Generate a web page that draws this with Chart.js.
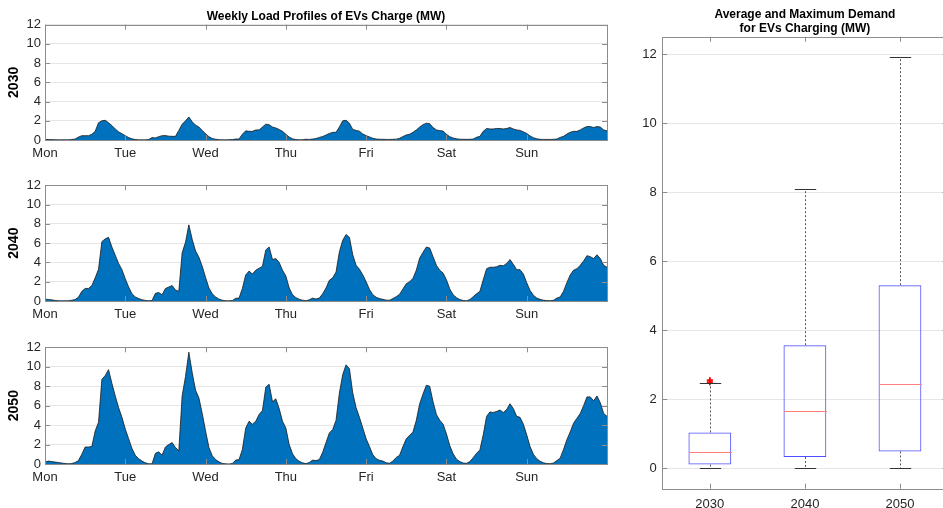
<!DOCTYPE html>
<html>
<head>
<meta charset="utf-8">
<script src="https://cdn.jsdelivr.net/npm/chart.js@4"></script>
<style>
  html, body { margin: 0; padding: 0; background: #fff; overflow: hidden; width: 943px; height: 508px; }
  .panel { position: absolute; }
</style>
</head>
<body>
<div class="panel" style="left:0;top:0;width:620px;height:170px"><canvas id="c2030"></canvas></div>
<div class="panel" style="left:0;top:170px;width:620px;height:161px"><canvas id="c2040"></canvas></div>
<div class="panel" style="left:0;top:332px;width:620px;height:162px"><canvas id="c2050"></canvas></div>
<div class="panel" style="left:620px;top:0;width:340px;height:508px"><canvas id="cBox"></canvas></div>
<script>
// hourly load over one week (MW), hour 0 = Monday 00:00
const hours = Array.from({ length: 169 }, (_, i) => i);
const dayNames = ['Mon', 'Tue', 'Wed', 'Thu', 'Fri', 'Sat', 'Sun'];

const load2030 = [
  0.05, 0.05, 0.04, 0.03, 0.02, 0.02, 0.02, 0.02, 0.05, 0.1, 0.3, 0.45,
  0.45, 0.45, 0.6, 0.9, 1.8, 2.0, 2.05, 1.8, 1.5, 1.15, 0.85, 0.65,
  0.45, 0.25, 0.12, 0.05, 0.02, 0.02, 0.02, 0.05, 0.25, 0.22, 0.35, 0.45,
  0.46, 0.4, 0.38, 0.38, 1.0, 1.65, 2.0, 2.4, 1.9, 1.55, 1.35, 1.0,
  0.65, 0.35, 0.16, 0.08, 0.03, 0.02, 0.02, 0.03, 0.05, 0.1, 0.1, 0.6,
  0.95, 0.9, 0.9, 1.05, 1.05, 1.35, 1.65, 1.6, 1.35, 1.25, 1.1, 0.9,
  0.6, 0.3, 0.12, 0.04, 0.03, 0.03, 0.08, 0.06, 0.1, 0.15, 0.27, 0.36,
  0.52, 0.68, 0.8, 0.8, 1.35, 2.0, 2.05, 1.75, 1.1, 1.0, 0.92, 0.62,
  0.46, 0.32, 0.18, 0.1, 0.08, 0.07, 0.06, 0.06, 0.07, 0.09, 0.18, 0.36,
  0.53, 0.6, 0.8, 1.05, 1.35, 1.6, 1.75, 1.7, 1.3, 1.05, 0.98, 0.93,
  0.6, 0.35, 0.2, 0.13, 0.08, 0.07, 0.07, 0.07, 0.1, 0.28, 0.38, 0.9,
  1.2, 1.15, 1.15, 1.2, 1.2, 1.15, 1.2, 1.3, 1.15, 1.05, 1.0, 0.85,
  0.68, 0.42, 0.24, 0.13, 0.07, 0.06, 0.06, 0.06, 0.07, 0.1, 0.27, 0.38,
  0.62, 0.8, 0.9, 0.9, 1.05, 1.25, 1.4, 1.4, 1.3, 1.4, 1.35, 1.05,
  0.95
];

const load2040 = [
  0.2, 0.16, 0.12, 0.06, 0.03, 0.02, 0.02, 0.03, 0.08, 0.15, 0.4, 1.0,
  1.3, 1.3, 1.6, 2.4, 3.3, 6.15, 6.45, 6.6, 5.6, 4.75, 3.9, 3.25,
  2.3, 1.45, 0.75, 0.42, 0.26, 0.13, 0.06, 0.03, 0.05, 0.8, 0.88, 0.65,
  1.3, 1.45, 1.6, 1.15, 1.0, 5.0, 6.1, 7.9, 6.4, 5.2, 4.55, 3.6,
  2.45, 1.35, 0.75, 0.42, 0.2, 0.08, 0.03, 0.02, 0.05, 0.28, 0.3, 1.3,
  2.7, 3.1, 2.8, 3.2, 3.4, 3.6, 5.3, 5.6, 4.3, 4.4, 4.0, 3.2,
  2.6, 1.35, 0.65, 0.35, 0.18, 0.08, 0.03, 0.12, 0.3, 0.2, 0.3, 0.75,
  1.35, 2.15, 2.4, 3.0, 5.1, 6.3, 6.9, 6.6, 4.8, 3.7, 3.3, 2.7,
  2.0, 1.2, 0.65, 0.38, 0.25, 0.17, 0.09, 0.08, 0.25, 0.45, 0.7, 1.25,
  1.8, 2.0, 2.35, 3.2, 4.45, 5.05, 5.6, 5.5, 4.6, 3.7, 3.2, 2.9,
  2.2, 1.25, 0.65, 0.35, 0.15, 0.06, 0.03, 0.15, 0.45, 0.75, 1.0, 2.2,
  3.35, 3.5, 3.5, 3.55, 3.7, 3.65, 3.9, 4.3, 3.8, 3.25, 3.25, 2.8,
  1.9, 1.1, 0.6, 0.3, 0.17, 0.08, 0.04, 0.03, 0.07, 0.3, 0.42, 1.0,
  1.9, 2.7, 3.2, 3.35, 3.7, 4.15, 4.7, 4.6, 4.4, 4.8, 4.4, 3.7,
  3.5
];

const load2050 = [
  0.2, 0.3, 0.25, 0.2, 0.15, 0.1, 0.05, 0.02, 0.05, 0.15, 0.35, 1.0,
  1.75, 1.75, 1.8, 3.4, 4.3, 8.7, 9.1, 9.7, 8.3, 7.0, 5.8, 4.8,
  3.6, 2.6, 1.6, 0.9, 0.55, 0.3, 0.12, 0.03, 0.02, 1.1, 1.25, 0.9,
  1.75, 2.0, 2.2, 1.7, 1.35, 7.0, 9.0, 11.5, 9.4, 7.6, 6.8, 5.2,
  3.4, 1.7, 0.85, 0.45, 0.22, 0.06, 0.02, 0.0, 0.05, 0.4, 0.45, 1.5,
  3.7, 4.4, 4.1, 4.4, 5.1, 5.5, 7.9, 8.2, 6.4, 6.7, 5.7, 4.4,
  3.7, 2.0, 1.05, 0.55, 0.28, 0.12, 0.04, 0.15, 0.4, 0.35, 0.45, 1.2,
  2.2, 3.2, 3.55, 4.5, 7.3, 9.2, 10.2, 9.8, 7.3, 5.8, 4.8, 3.7,
  2.6, 1.8, 0.95, 0.55, 0.38, 0.3, 0.13, 0.07, 0.3, 0.68, 0.9, 1.8,
  2.6, 2.95, 3.3, 4.5, 6.2, 7.2, 8.1, 8.0, 6.4, 5.1, 4.5, 4.1,
  3.1, 1.9, 1.05, 0.5, 0.25, 0.1, 0.07, 0.25, 0.65, 1.1, 1.45, 3.0,
  4.9, 5.35, 5.3, 5.4, 5.55, 5.3, 5.6, 6.2, 5.7, 4.9, 4.8, 4.1,
  3.0, 1.8, 1.0, 0.55, 0.28, 0.12, 0.05, 0.03, 0.1, 0.35, 0.6, 1.5,
  2.5, 3.3, 4.2, 4.7, 5.2, 6.0, 6.9, 6.9, 6.5, 7.0, 6.3, 5.2,
  4.9
];

// box plot statistics per year (MW)
const boxYears = ['2030', '2040', '2050'];
const boxMin = [0, 0, 0];
const boxQ1 = [0.1, 0.32, 0.48];
const boxMedian = [0.47, 1.64, 2.44];
const boxQ3 = [1.03, 3.56, 5.3];
const boxMax = [2.46, 8.08, 11.91];
const outliers2030 = [2.48, 2.52, 2.55];

const yTicks = [0, 2, 4, 6, 8, 10, 12];

Chart.defaults.font.family = "'Liberation Sans', Arial, sans-serif";
Chart.defaults.font.size = 13;
Chart.defaults.color = '#262626';
Chart.defaults.animation = false;

const axisColor = '#8c8c8c';
const gridColor = '#e6e6e6';

// MATLAB style box with inward ticks
const matBox = {
  id: 'matBox',
  afterDraw(chart) {
    const { ctx, chartArea: a, scales: { x, y } } = chart;
    ctx.save();
    ctx.strokeStyle = axisColor;
    ctx.lineWidth = 1;
    ctx.beginPath();
    x.ticks.forEach((t, i) => {
      const px = Math.round(x.getPixelForTick(i)) + 0.5;
      ctx.moveTo(px, a.top); ctx.lineTo(px, a.top + 5);
      ctx.moveTo(px, a.bottom); ctx.lineTo(px, a.bottom - 5);
    });
    y.ticks.forEach((t, i) => {
      const py = Math.round(y.getPixelForTick(i)) + 0.5;
      ctx.moveTo(a.left, py); ctx.lineTo(a.left + 5, py);
      ctx.moveTo(a.right, py); ctx.lineTo(a.right - 5, py);
    });
    ctx.stroke();
    ctx.strokeRect(Math.round(a.left) + 0.5, Math.round(a.top) + 0.5,
      Math.round(a.right - a.left), Math.round(a.bottom - a.top));
    ctx.restore();
  }
};

function weekChart(id, year, values, withTitle) {
  return new Chart(document.getElementById(id), {
    type: 'line',
    data: {
      labels: hours,
      datasets: [{
        data: values,
        fill: 'origin',
        backgroundColor: '#0072BD',
        borderColor: '#1a1a1a',
        borderWidth: 0.8,
        pointRadius: 0,
        tension: 0
      }]
    },
    options: {
      responsive: true,
      maintainAspectRatio: false,
      layout: { padding: { top: withTitle ? 0 : 15.3, right: 13 } },
      plugins: {
        legend: { display: false },
        tooltip: { enabled: false },
        title: {
          display: withTitle,
          text: 'Weekly Load Profiles of EVs Charge (MW)',
          fullSize: false,
          color: '#000',
          font: { size: 12, weight: 'bold', lineHeight: 1.2 },
          padding: { top: 9, bottom: 1.3 }
        }
      },
      scales: {
        x: {
          type: 'linear',
          min: 0,
          max: 168,
          afterBuildTicks: s => { s.ticks = [0, 24, 48, 72, 96, 120, 144, 168].map(v => ({ value: v })); },
          afterFit: s => { s.height = 30; },
          ticks: {
            padding: 6,
            maxRotation: 0,
            autoSkip: false,
            callback: v => dayNames[v / 24] || ''
          },
          grid: { display: false, drawTicks: false },
          border: { display: false }
        },
        y: {
          min: 0,
          max: 12,
          afterBuildTicks: s => { s.ticks = yTicks.map(v => ({ value: v })); },
          afterFit: s => { s.width = 45; },
          ticks: { padding: 4 },
          grid: { color: gridColor, drawTicks: false },
          border: { display: false },
          title: {
            display: true,
            text: year,
            color: '#000',
            font: { size: 14, weight: 'bold' },
            padding: { top: 6, bottom: 0 }
          }
        }
      }
    },
    plugins: [matBox]
  });
}

weekChart('c2030', '2030', load2030, true);
weekChart('c2040', '2040', load2040, false);
weekChart('c2050', '2050', load2050, false);

// whiskers, caps and medians drawn on top of the boxes
const boxParts = {
  id: 'boxParts',
  afterDatasetsDraw(chart) {
    const { ctx, scales: { x, y } } = chart;
    const meta = chart.getDatasetMeta(0);
    ctx.save();
    boxYears.forEach((yr, i) => {
      const cx = Math.round(x.getPixelForValue(i)) + 0.5;
      const half = meta.data[i].width / 2;
      // dashed whiskers
      ctx.strokeStyle = '#555';
      ctx.lineWidth = 1;
      ctx.setLineDash([2, 2]);
      ctx.beginPath();
      ctx.moveTo(cx, y.getPixelForValue(boxQ3[i]));
      ctx.lineTo(cx, y.getPixelForValue(boxMax[i]));
      ctx.moveTo(cx, y.getPixelForValue(boxQ1[i]));
      ctx.lineTo(cx, y.getPixelForValue(boxMin[i]));
      ctx.stroke();
      ctx.setLineDash([]);
      // caps
      ctx.strokeStyle = '#333';
      ctx.beginPath();
      [boxMax[i], boxMin[i]].forEach(v => {
        const py = Math.round(y.getPixelForValue(v)) + 0.5;
        ctx.moveTo(cx - half / 2, py);
        ctx.lineTo(cx + half / 2, py);
      });
      ctx.stroke();
      // median
      ctx.strokeStyle = '#ff7f7f';
      ctx.beginPath();
      const my = Math.round(y.getPixelForValue(boxMedian[i])) + 0.5;
      ctx.moveTo(cx - half, my);
      ctx.lineTo(cx + half, my);
      ctx.stroke();
    });
    ctx.restore();
  }
};

new Chart(document.getElementById('cBox'), {
  type: 'bar',
  data: {
    labels: boxYears,
    datasets: [
      {
        type: 'bar',
        data: boxYears.map((_, i) => [boxQ1[i], boxQ3[i]]),
        backgroundColor: 'rgba(0,0,0,0)',
        borderColor: '#4f4fff',
        borderWidth: 1,
        borderSkipped: false,
        categoryPercentage: 1,
        barPercentage: 0.45
      },
      {
        type: 'line',
        data: outliers2030.map(v => ({ x: '2030', y: v })),
        showLine: false,
        pointStyle: 'cross',
        pointRadius: 3,
        borderColor: '#ff0000',
        borderWidth: 1.5
      }
    ]
  },
  options: {
    responsive: true,
    maintainAspectRatio: false,
    layout: { padding: { right: 12.5 } },
    plugins: {
      legend: { display: false },
      tooltip: { enabled: false },
      title: {
        display: true,
        text: ['Average and Maximum Demand', 'for EVs Charging (MW)'],
        fullSize: false,
        color: '#000',
        font: { size: 12, weight: 'bold', lineHeight: 1.17 },
        padding: { top: 8, bottom: 0.7 }
      }
    },
    scales: {
      x: {
        afterFit: s => { s.height = 19.3; },
        ticks: { padding: 8, maxRotation: 0 },
        grid: { display: false, drawTicks: false },
        border: { display: false }
      },
      y: {
        min: -0.6,
        max: 12.5,
        afterBuildTicks: s => { s.ticks = yTicks.map(v => ({ value: v })); },
        afterFit: s => { s.width = 42.3; },
        ticks: { padding: 5.6 },
        grid: { color: gridColor, drawTicks: false },
        border: { display: false }
      }
    }
  },
  plugins: [boxParts, matBox]
});
</script>
</body>
</html>
